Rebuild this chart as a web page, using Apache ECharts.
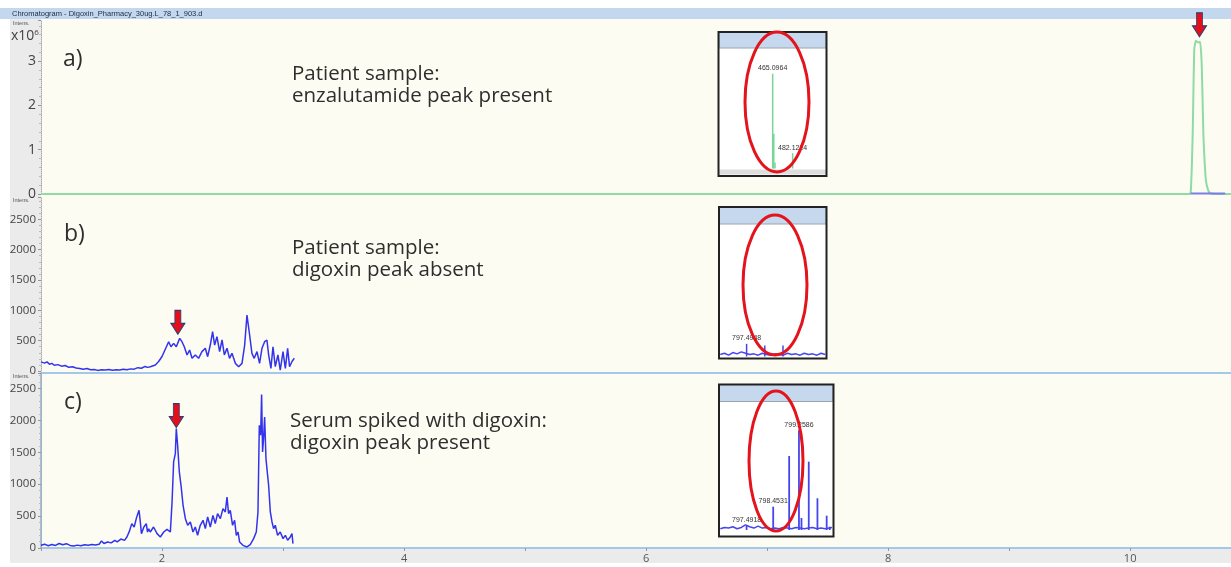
<!DOCTYPE html>
<html>
<head>
<meta charset="utf-8">
<title>Chromatogram - Digoxin</title>
<script src="https://cdn.jsdelivr.net/npm/echarts@6/dist/echarts.min.js"></script>
<style>
html, body { margin: 0; padding: 0; background: #fff; }
#chart { width: 1231px; height: 567px; }
</style>
</head>
<body>
<div id="chart"></div>
<script>
// a) patient sample, enzalutamide trace (x10^6)
var aTime = [1.0, 10.478, 10.500, 10.517, 10.530, 10.544, 10.561, 10.578, 10.592, 10.605, 10.616, 10.627, 10.643, 10.660, 10.701, 10.85];
var aIntens = [0, 0, 0.02, 1.36, 3.27, 3.46, 3.42, 3.44, 2.88, 1.36, 0.7, 0.29, 0.1, 0.02, 0, 0];
var aBlueTime = [10.50, 10.785];
var aBlueIntens = [0.01, 0.01];

// b) patient sample, digoxin trace
var bTime = [1.00,1.01,1.03,1.05,1.07,1.09,1.11,1.14,1.17,1.20,1.23,1.26,1.29,1.32,1.35,1.38,1.41,1.44,1.47,1.50,1.53,1.56,1.59,1.62,1.65,1.68,1.71,1.74,1.77,1.80,1.83,1.86,1.88,
  1.903,1.945,1.972,2.0,2.014,2.055,2.074,2.096,2.118,2.146,2.165,2.184,2.207,2.228,2.248,2.275,2.302,2.330,2.358,2.377,2.399,2.418,2.435,2.454,2.476,2.496,2.515,2.537,2.558,2.578,
  2.606,2.633,2.661,2.683,2.702,2.724,2.743,2.762,2.785,2.806,2.826,2.848,2.867,2.881,2.900,2.917,2.936,2.958,2.977,3.0,3.019,3.038,3.054,3.074,3.093];
var bIntens = [150,167,130,150,110,125,95,105,80,90,60,70,50,42,30,40,20,25,10,20,15,25,12,20,15,30,20,35,30,55,45,75,60,
  71,99,157,239,264,483,400,455,400,538,483,400,264,346,209,264,209,319,374,236,428,648,428,566,319,511,264,374,209,291,
  126,71,126,428,922,593,291,209,319,126,374,483,511,264,44,400,71,264,16,319,44,374,71,157,209];

// c) serum spiked with digoxin
var cTime = [1.00,1.03,1.06,1.09,1.12,1.15,1.18,1.21,1.24,1.27,1.30,1.33,1.36,1.39,1.42,1.45,1.48,1.50,1.52,1.55,1.58,1.61,1.63,1.66,1.69,1.71,1.73,1.75,1.77,1.79,1.81,1.82,1.83,1.85,1.87,1.88,1.89,
  1.903,1.93,1.959,1.986,2.014,2.041,2.069,2.083,2.096,2.110,2.118,2.129,2.143,2.157,2.174,2.193,2.212,2.234,2.256,2.275,2.294,2.316,2.339,2.358,2.377,2.399,2.421,2.440,2.459,2.482,
  2.504,2.523,2.537,2.550,2.564,2.583,2.600,2.614,2.628,2.641,2.669,2.702,2.729,2.757,2.779,2.793,2.804,2.815,2.823,2.831,2.839,2.848,2.859,2.867,2.881,2.895,2.909,2.922,2.936,2.955,
  2.977,3.0,3.019,3.038,3.060,3.074,3.082];
var cIntens = [42,60,35,55,40,70,50,68,40,30,45,35,50,42,55,48,60,110,70,95,80,120,95,140,120,173,260,382,330,480,591,420,225,330,382,250,300,
  251,329,225,173,251,293,251,720,1349,1479,1871,1610,1192,983,669,460,356,408,251,329,199,356,434,304,487,329,512,382,539,460,
  617,565,800,539,591,356,434,199,251,95,42,16,52,147,251,565,1923,1767,2404,1505,1715,2054,1401,1244,983,565,408,304,356,199,
  251,147,199,121,173,225,69];

// arrow positions [time, intensity]
var arrowA = [10.573, 3.46];
var arrowB = [2.131, 538];
var arrowC = [2.118, 1871];

// inset mass spectra (relative intensity)
var insetAMz = [465.10, 466.05, 467.05, 482.12];
var insetAInt = [79, 29, 5, 12.75];
var insetALabels = ['465.0964', '', '', '482.1224'];

var insetBMz = [797.49, 798.14, 798.79];
var insetBInt = [9.6, 8.3, 8.3];
var insetBLabels = ['797.4948', '', ''];
var insetBNoiseMz = [796.55,796.70,796.85,797.00,797.15,797.30,797.45,797.60,797.75,797.90,798.05,798.20,798.35,798.50,798.65,798.80,798.95,799.10,799.25,799.40,799.55,799.70,799.85,800.00,800.15,800.30];
var insetBNoiseInt = [1.5,2.5,1.0,3.0,2.0,3.5,2.5,1.5,2.0,1.0,2.5,1.5,1.0,2.0,1.5,1.0,2.5,1.5,2.0,1.0,2.5,1.5,2.0,1.0,2.5,1.5];

var insetCMz = [797.49, 798.44, 799.01, 799.36, 799.45, 799.71, 800.02, 800.35, 800.46];
var insetCInt = [3.4, 18.2, 57.8, 78, 9.4, 53.4, 24.8, 11.2, 2.6];
var insetCLabels = ['797.4918', '798.4531', '', '799.2586', '', '', '', '', ''];
var insetCNoiseMz = [796.55,796.70,796.85,797.00,797.15,797.30,797.45,797.60,797.75,797.90,798.05,798.20,798.35,798.50,798.65,798.80,798.95,799.10,799.25,799.40,799.55,799.70,799.85,800.00,800.15,800.30,800.54];
var insetCNoiseInt = [1.0,2.0,1.5,2.5,1.0,2.0,4.0,2.5,1.5,3.0,1.5,2.0,1.0,1.5,1.0,2.0,1.5,1.0,2.0,1.5,1.0,1.5,2.0,1.0,1.5,1.0,2.0];

var xTicks = [2, 4, 6, 8, 10];

function pairs(xs, ys) {
  var out = [];
  for (var i = 0; i < xs.length; i++) out.push([xs[i], ys[i]]);
  return out;
}
function sticks(xs, ys, names, dist) {
  var out = [];
  for (var i = 0; i < xs.length; i++) {
    out.push({ value: [xs[i], ys[i]], label: { show: !!names[i], formatter: names[i], distance: dist || 2 } });
  }
  return out;
}

var chart = echarts.init(document.getElementById('chart'), null, { renderer: 'canvas' });

var font = 'Open Sans';
var blue = '#3333ee';
var arrowPath = 'path://M4,0L10,0L10,13L14,13L7,24L0,13L4,13Z';
function arrow(coord, off) {
  return {
    silent: true, symbol: arrowPath, symbolSize: [14, 24], symbolOffset: [0, off],
    itemStyle: { color: '#e3101b', borderColor: '#2b3f77', borderWidth: 1 },
    label: { show: false }, data: [{ coord: coord }]
  };
}

function mainX(i, showLabels) {
  return {
    gridIndex: i, type: 'value', min: 1, max: 10.85, interval: 1,
    axisLine: { show: false },
    axisTick: { show: showLabels, length: 3, lineStyle: { color: '#999' } },
    axisLabel: {
      show: showLabels, fontSize: 11, color: '#555', fontFamily: font, margin: 5,
      formatter: function (v) { return xTicks.indexOf(v) >= 0 ? String(v) : ''; }
    },
    splitLine: { show: false }
  };
}
function mainY(i, max, interval, size) {
  return {
    gridIndex: i, type: 'value', min: 0, max: max, interval: interval,
    axisLine: { show: true, lineStyle: { color: '#aaa', type: 'dotted' } },
    axisTick: { show: true, length: 3, lineStyle: { color: '#999' } },
    minorTick: { show: true, splitNumber: 5, length: 2, lineStyle: { color: '#bbb' } },
    axisLabel: { fontSize: size, color: '#444', fontFamily: font, margin: 5, showMaxLabel: false,
      formatter: function (v) { return String(v); } },
    splitLine: { show: false }
  };
}
function insetX(i, min, max, color) {
  return {
    gridIndex: i, type: 'value', min: min, max: max,
    axisLine: { show: true, onZero: false, lineStyle: { color: color, width: 2 } },
    axisTick: { show: false }, axisLabel: { show: false }, splitLine: { show: false }
  };
}
function insetY(i) {
  return { gridIndex: i, type: 'value', min: 0, max: 100, show: false, splitLine: { show: false } };
}

var option = {
  backgroundColor: '#ffffff',
  animation: false,
  grid: [
    { left: 41, top: 20, width: 1192, height: 174, outerBoundsMode: 'none' },
    { left: 41, top: 197, width: 1192, height: 174, outerBoundsMode: 'none' },
    { left: 41, top: 373, width: 1192, height: 175, outerBoundsMode: 'none', show: true, backgroundColor: 'transparent', borderColor: '#86b6e6', borderWidth: 1.5 },
    { left: 720, top: 48.5, width: 105, height: 120, outerBoundsMode: 'none' },
    { left: 720, top: 224.5, width: 105, height: 132, outerBoundsMode: 'none' },
    { left: 720, top: 402, width: 112, height: 128, outerBoundsMode: 'none' }
  ],
  xAxis: [
    mainX(0, false), mainX(1, false), mainX(2, true),
    insetX(3, 420.2, 509.7, '#78d595'),
    insetX(4, 796.54, 800.29, '#4646ee'),
    insetX(5, 796.54, 800.54, '#4646ee')
  ],
  yAxis: [
    mainY(0, 3.93, 1, 14), mainY(1, 2867, 500, 11.5), mainY(2, 2743, 500, 11.5),
    insetY(3), insetY(4), insetY(5)
  ],
  series: [
    { type: 'line', xAxisIndex: 0, yAxisIndex: 0, data: pairs(aTime, aIntens), symbol: 'none', smooth: 0.2,
      lineStyle: { color: '#8edba6', width: 2 }, markPoint: arrow(arrowA, -16) },
    { type: 'line', xAxisIndex: 0, yAxisIndex: 0, data: pairs(aBlueTime, aBlueIntens), symbol: 'none',
      lineStyle: { color: '#7b7bea', width: 2 } },
    { type: 'line', xAxisIndex: 1, yAxisIndex: 1, data: pairs(bTime, bIntens), symbol: 'none',
      lineStyle: { color: blue, width: 1.5 }, markPoint: arrow(arrowB, -16) },
    { type: 'line', xAxisIndex: 2, yAxisIndex: 2, data: pairs(cTime, cIntens), symbol: 'none',
      lineStyle: { color: blue, width: 1.5 }, markPoint: arrow(arrowC, -13) },
    { type: 'bar', xAxisIndex: 3, yAxisIndex: 3, barWidth: 1.5, data: sticks(insetAMz, insetAInt, insetALabels),
      itemStyle: { color: '#78d595' }, label: { position: 'top', fontSize: 7, color: '#333', fontFamily: 'Liberation Sans' } },
    { type: 'line', xAxisIndex: 4, yAxisIndex: 4, data: pairs(insetBNoiseMz, insetBNoiseInt), symbol: 'none',
      lineStyle: { color: '#4646ee', width: 1.5 } },
    { type: 'bar', xAxisIndex: 4, yAxisIndex: 4, barWidth: 1.5, data: sticks(insetBMz, insetBInt, insetBLabels),
      itemStyle: { color: '#4646ee' }, label: { position: 'top', fontSize: 7, color: '#333', fontFamily: 'Liberation Sans' } },
    { type: 'line', xAxisIndex: 5, yAxisIndex: 5, data: pairs(insetCNoiseMz, insetCNoiseInt), symbol: 'none',
      lineStyle: { color: '#4646ee', width: 1.5 } },
    { type: 'bar', xAxisIndex: 5, yAxisIndex: 5, barWidth: 1.8, data: sticks(insetCMz, insetCInt, insetCLabels),
      itemStyle: { color: '#4646ee' }, label: { position: 'top', fontSize: 7, color: '#333', fontFamily: 'Liberation Sans' } }
  ],
  graphic: [
    // background, window chrome
    { type: 'rect', z: -2, shape: { x: 41, y: 19, width: 1190, height: 530 }, style: { fill: '#fcfcf2' } },
    { type: 'rect', z: -1, shape: { x: 10, y: 19, width: 31, height: 544 }, style: { fill: '#ebebeb' } },
    { type: 'rect', z: -1, shape: { x: 10, y: 549, width: 1221, height: 14 }, style: { fill: '#ebebeb' } },
    { type: 'rect', z: -1, shape: { x: 0, y: 8, width: 1231, height: 11 }, style: { fill: '#c3d7ee' } },
    { type: 'text', z: 5, x: 12, y: 13.5, style: { text: 'Chromatogram - Digoxin_Pharmacy_30ug.L_78_1_903.d', fontSize: 7.5, fontFamily: 'Liberation Sans', fill: '#1d2a44', textVerticalAlign: 'middle' } },
    { type: 'text', z: 5, x: 13, y: 23, style: { text: 'Intens.', fontSize: 5.5, fontFamily: 'Liberation Sans', fill: '#555', textVerticalAlign: 'middle' } },
    { type: 'text', z: 5, x: 13, y: 200, style: { text: 'Intens.', fontSize: 5.5, fontFamily: 'Liberation Sans', fill: '#555', textVerticalAlign: 'middle' } },
    { type: 'text', z: 5, x: 13, y: 376, style: { text: 'Intens.', fontSize: 5.5, fontFamily: 'Liberation Sans', fill: '#555', textVerticalAlign: 'middle' } },
    { type: 'text', z: 5, x: 11, y: 36, style: { text: '{m|x10}{s|6}', textVerticalAlign: 'middle',
      rich: { m: { fontSize: 14, fontFamily: font, fill: '#444' }, s: { fontSize: 8, fontFamily: font, fill: '#444', verticalAlign: 'top' } } } },

    // panel captions
    { type: 'text', z: 5, x: 63, y: 59, style: { text: 'a)', fontSize: 23, fontFamily: font, fill: '#2e2e2e', textVerticalAlign: 'middle' } },
    { type: 'text', z: 5, x: 292, y: 74, style: { text: 'Patient sample:', fontSize: 20.5, fontFamily: font, fill: '#2e2e2e', textVerticalAlign: 'middle' } },
    { type: 'text', z: 5, x: 292, y: 96, style: { text: 'enzalutamide peak present', fontSize: 20.5, fontFamily: font, fill: '#2e2e2e', textVerticalAlign: 'middle' } },
    { type: 'text', z: 5, x: 64, y: 234, style: { text: 'b)', fontSize: 23, fontFamily: font, fill: '#2e2e2e', textVerticalAlign: 'middle' } },
    { type: 'text', z: 5, x: 292, y: 248, style: { text: 'Patient sample:', fontSize: 20.5, fontFamily: font, fill: '#2e2e2e', textVerticalAlign: 'middle' } },
    { type: 'text', z: 5, x: 292, y: 270, style: { text: 'digoxin peak absent', fontSize: 20.5, fontFamily: font, fill: '#2e2e2e', textVerticalAlign: 'middle' } },
    { type: 'text', z: 5, x: 64, y: 402, style: { text: 'c)', fontSize: 23, fontFamily: font, fill: '#2e2e2e', textVerticalAlign: 'middle' } },
    { type: 'text', z: 5, x: 290, y: 421, style: { text: 'Serum spiked with digoxin:', fontSize: 20.5, fontFamily: font, fill: '#2e2e2e', textVerticalAlign: 'middle' } },
    { type: 'text', z: 5, x: 290, y: 443, style: { text: 'digoxin peak present', fontSize: 20.5, fontFamily: font, fill: '#2e2e2e', textVerticalAlign: 'middle' } },

    // inset a
    { type: 'rect', z: 1, shape: { x: 719, y: 32, width: 107, height: 144 }, style: { fill: '#ffffff' } },
    { type: 'rect', z: 50, shape: { x: 719, y: 32, width: 107, height: 16 }, style: { fill: '#c5d8ee', stroke: '#9aa4b0', lineWidth: 1 } },
    { type: 'rect', z: 1, shape: { x: 719, y: 169.5, width: 107, height: 5 }, style: { fill: '#dedede' } },
    { type: 'rect', z: 50, shape: { x: 718.5, y: 32, width: 108, height: 144 }, style: { fill: 'none', stroke: '#222', lineWidth: 2 } },
    { type: 'ellipse', z: 60, shape: { cx: 777, cy: 102, rx: 32, ry: 70 }, style: { fill: 'none', stroke: '#e3141c', lineWidth: 3 } },
    // inset b
    { type: 'rect', z: 1, shape: { x: 719, y: 207, width: 107, height: 151 }, style: { fill: '#ffffff' } },
    { type: 'rect', z: 50, shape: { x: 719, y: 207, width: 107, height: 17 }, style: { fill: '#c5d8ee', stroke: '#9aa4b0', lineWidth: 1 } },
    { type: 'rect', z: 50, shape: { x: 719, y: 207, width: 107.5, height: 151.5 }, style: { fill: 'none', stroke: '#222', lineWidth: 2 } },
    { type: 'ellipse', z: 60, shape: { cx: 775, cy: 285, rx: 32, ry: 70 }, style: { fill: 'none', stroke: '#e3141c', lineWidth: 3 } },
    // inset c
    { type: 'rect', z: 1, shape: { x: 719, y: 384.5, width: 114, height: 152 }, style: { fill: '#ffffff' } },
    { type: 'rect', z: 50, shape: { x: 719, y: 384.5, width: 114, height: 17 }, style: { fill: '#c5d8ee', stroke: '#9aa4b0', lineWidth: 1 } },
    { type: 'rect', z: 50, shape: { x: 719, y: 384.5, width: 114.5, height: 152 }, style: { fill: 'none', stroke: '#222', lineWidth: 2 } },
    { type: 'ellipse', z: 60, shape: { cx: 776, cy: 461, rx: 27, ry: 70 }, style: { fill: 'none', stroke: '#e3141c', lineWidth: 3 } }
  ]
};

chart.setOption(option);
</script>
</body>
</html>
